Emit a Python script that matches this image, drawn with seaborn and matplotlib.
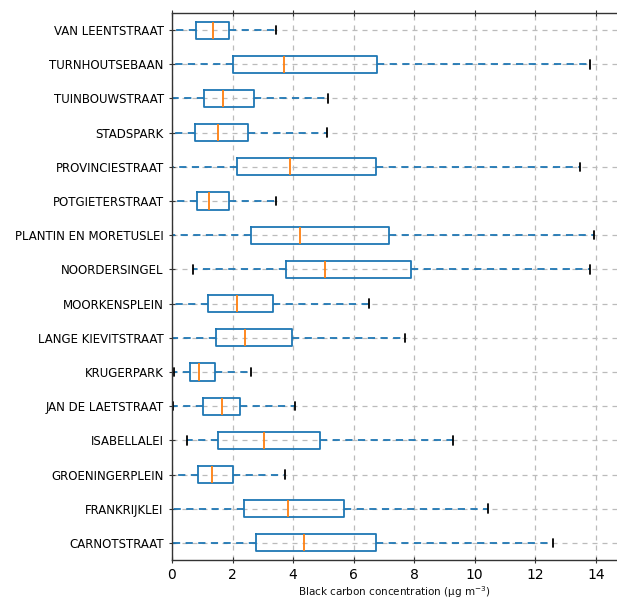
import numpy as np
import pandas as pd
import matplotlib
matplotlib.use("Agg")
import matplotlib.pyplot as plt
import seaborn as sns

# Locations, top to bottom
locations = ["VAN LEENTSTRAAT", "TURNHOUTSEBAAN", "TUINBOUWSTRAAT", "STADSPARK",
             "PROVINCIESTRAAT", "POTGIETERSTRAAT", "PLANTIN EN MORETUSLEI",
             "NOORDERSINGEL", "MOORKENSPLEIN", "LANGE KIEVITSTRAAT", "KRUGERPARK",
             "JAN DE LAETSTRAAT", "ISABELLALEI", "GROENINGERPLEIN", "FRANKRIJKLEI",
             "CARNOTSTRAAT"]
whisker_low = [0.0, 0.0, 0.0, 0.0, 0.0, 0.0, 0.0, 0.68, 0.0, 0.0, 0.05,
               0.04, 0.48, 0.0, 0.0, 0.0]
q1 = [0.79, 2.03, 1.07, 0.77, 2.14, 0.83, 2.60, 3.78, 1.19, 1.45, 0.58,
      1.02, 1.51, 0.86, 2.38, 2.76]
median = [1.37, 3.71, 1.68, 1.53, 3.89, 1.21, 4.22, 5.07, 2.15, 2.40, 0.90,
          1.65, 3.04, 1.33, 3.83, 4.35]
q3 = [1.89, 6.76, 2.71, 2.52, 6.73, 1.88, 7.18, 7.90, 3.34, 3.98, 1.42,
      2.26, 4.90, 2.03, 5.68, 6.75]
whisker_high = [3.42, 13.80, 5.15, 5.12, 13.49, 3.42, 13.95, 13.82, 6.51, 7.69,
                2.61, 4.06, 9.28, 3.74, 10.45, 12.58]

rows = []
for i, loc in enumerate(locations):
    for v in (whisker_low[i], q1[i], median[i], q3[i], whisker_high[i]):
        rows.append({"location": loc, "bc": v})
df = pd.DataFrame(rows)

sns.set_style("white")
plt.rcParams["font.family"] = ["DejaVu Sans"]
plt.rcParams["text.color"] = "black"
plt.rcParams["xtick.labelcolor"] = "black"
plt.rcParams["ytick.labelcolor"] = "black"

fig = plt.figure(figsize=(6.17, 5.99), dpi=100)
ax = fig.add_axes([172/617, 1 - 560/599, 1 - 172/617, (560 - 13)/599])

blue = "#1f77b4"
sns.boxplot(data=df, x="bc", y="location", order=locations, whis=(0, 100),
            width=0.5, fill=False, color=blue, linewidth=1.3, showfliers=False,
            boxprops=dict(color=blue, linewidth=1.3),
            medianprops=dict(color="#ff7f0e", linewidth=1.3),
            whiskerprops=dict(color=blue, linewidth=1.3, linestyle=(0, (4, 3))),
            capprops=dict(color="black", linewidth=1.3),
            ax=ax)

ax.set_xlim(0, 14.7)
ax.set_ylim(15.5, -0.5)
ax.set_xticks([0, 2, 4, 6, 8, 10, 12, 14])
ax.set_xlabel("Black carbon concentration (μg m$^{-3}$)", fontsize=7.5,
              color="#111111", labelpad=1)
ax.set_ylabel("")
ax.grid(True, color="#bbbbbb", linestyle=(0, (4, 4)), linewidth=0.9)
ax.set_axisbelow(True)
for s in ["left", "top", "bottom"]:
    ax.spines[s].set_visible(True)
    ax.spines[s].set_color("#333333")
    ax.spines[s].set_linewidth(1.0)
ax.spines["right"].set_visible(False)
ax.tick_params(axis="x", direction="inout", length=5, top=True, bottom=True,
               labelsize=10, color="#333333", labelcolor="black")
ax.tick_params(axis="y", direction="inout", length=5, left=True, labelsize=8.5,
               color="#333333", labelcolor="black")

fig.savefig("out.png", dpi=100)
